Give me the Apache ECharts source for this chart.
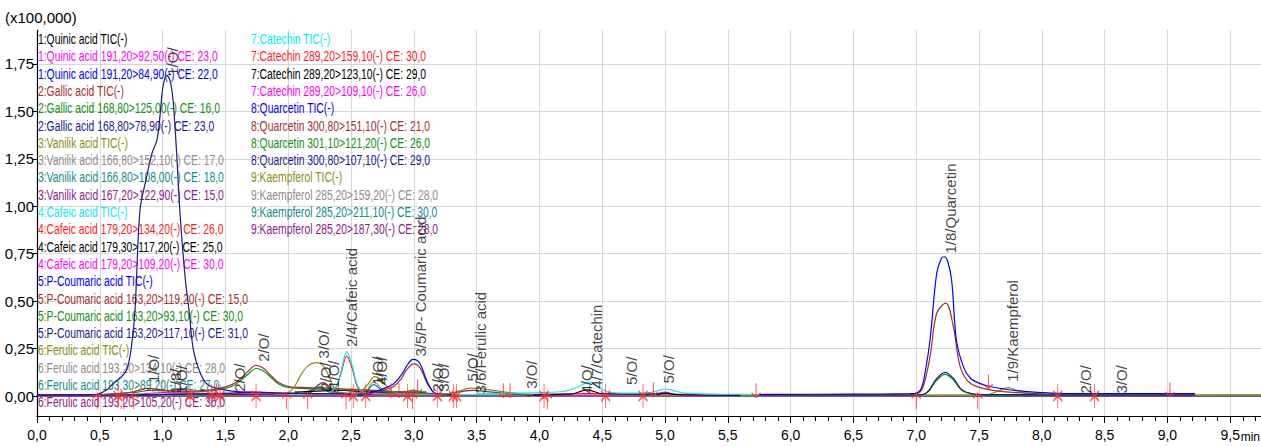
<!DOCTYPE html>
<html>
<head>
<meta charset="utf-8">
<title>Chromatogram</title>
<script src="https://cdn.jsdelivr.net/npm/echarts@6/dist/echarts.min.js"></script>
<style>
  * { margin: 0; padding: 0; }
  html, body, #chart { width: 1261px; height: 447px; overflow: hidden; background: #fff; }
</style>
</head>
<body>
<div id="chart"></div>
<script>
// colours used by the instrument software
var BLACK = '#000000', MAGENTA = '#ff00ff', BLUE = '#0000ff', MAROON = '#a03030',
    GREEN = '#109010', NAVY = '#1a1a8a', OLIVE = '#8c8c10', GRAY = '#8c8c8c',
    TEAL = '#108c8c', PURPLE = '#8c1a8c', CYAN = '#00f0f0', RED = '#ff1a1a';

// traces: [time (min), intensity (x100,000)]
var quinicTic = [[0, 0.006], [0.8, 0.006], [1.2, 0.01], [1.9, 0.008]];
var quinic92 = [[0, 0.002], [0.6, 0.003], [0.85, 0.012], [1.0, 0.018], [1.4, 0.014], [1.9, 0.01]];
var quinic84 = [[0, 0.004], [0.4, 0.005], [0.475, 0.008], [0.55, 0.03], [0.61, 0.067], [0.67, 0.1],
  [0.714, 0.137], [0.75, 0.25], [0.78, 0.45], [0.82, 0.98], [0.868, 1.14], [0.916, 1.28], [0.955, 1.35],
  [0.98, 1.48], [1.003, 1.63], [1.035, 1.69], [1.06, 1.66], [1.083, 1.56], [1.11, 1.3], [1.14, 0.95],
  [1.18, 0.62], [1.213, 0.436], [1.245, 0.243], [1.3, 0.12], [1.364, 0.058], [1.51, 0.03], [1.7, 0.02],
  [2.0, 0.015], [2.5, 0.01]];
var gallicTic = [[0.5, 0.008], [0.7, 0.015], [0.8, 0.028], [0.88, 0.04], [0.96, 0.036], [1.05, 0.028],
  [1.2, 0.026], [1.35, 0.03], [1.45, 0.04], [1.55, 0.06], [1.62, 0.09], [1.68, 0.13], [1.744, 0.162],
  [1.8, 0.148], [1.86, 0.11], [1.92, 0.072], [2.0, 0.05], [2.1, 0.045], [2.3, 0.042], [2.5, 0.036],
  [2.7, 0.03], [2.9, 0.02], [3.1, 0.01]];
var gallic125 = [[0.5, 0.006], [0.8, 0.02], [0.9, 0.03], [1.2, 0.022], [1.35, 0.025], [1.45, 0.033],
  [1.55, 0.05], [1.62, 0.08], [1.68, 0.115], [1.744, 0.145], [1.8, 0.133], [1.86, 0.1], [1.92, 0.065],
  [2.0, 0.045], [2.2, 0.038], [2.5, 0.032], [2.8, 0.025], [3.1, 0.01]];
var gallic78 = [[0.5, 0.004], [1.4, 0.012], [1.75, 0.02], [2.0, 0.014], [2.6, 0.012], [3.1, 0.008]];
var vanilikTic = [[1.9, 0.008], [2.0, 0.018], [2.05, 0.05], [2.1, 0.11], [2.16, 0.16], [2.227, 0.176],
  [2.27, 0.165], [2.32, 0.11], [2.36, 0.05], [2.4, 0.02], [2.45, 0.012], [2.55, 0.015], [2.62, 0.05],
  [2.69, 0.102], [2.74, 0.085], [2.8, 0.04], [2.86, 0.015], [2.95, 0.008], [3.1, 0.006]];
var vanilik152 = [[1.9, 0.004], [2.1, 0.01], [2.25, 0.05], [2.38, 0.015], [2.6, 0.015], [2.68, 0.075],
  [2.78, 0.02], [3.1, 0.006]];
var vanilik108 = [[1.9, 0.004], [2.15, 0.01], [2.25, 0.045], [2.35, 0.015], [2.6, 0.012], [2.68, 0.06],
  [2.78, 0.015], [3.1, 0.005]];
var vanilik122 = [[1.9, 0.003], [2.15, 0.015], [2.28, 0.07], [2.38, 0.02], [2.6, 0.01], [2.7, 0.03],
  [2.8, 0.01], [3.1, 0.004]];
var cafeicTic = [[2.0, 0.008], [2.3, 0.012], [2.38, 0.05], [2.42, 0.13], [2.466, 0.234], [2.51, 0.16],
  [2.55, 0.06], [2.6, 0.02], [2.7, 0.012], [3.0, 0.01], [3.35, 0.008]];
var cafeic134 = [[2.0, 0.006], [2.3, 0.01], [2.38, 0.045], [2.42, 0.12], [2.466, 0.21], [2.51, 0.145],
  [2.55, 0.05], [2.6, 0.018], [2.7, 0.01], [3.35, 0.006]];
var cafeic117 = [[2.05, 0.02], [2.45, 0.03], [2.6, 0.022], [3.1, 0.02]];
var cafeic109 = [[1.9, 0.004], [3.35, 0.004]];
var coumaricTic = [[2.6, 0.012], [2.7, 0.025], [2.78, 0.045], [2.84, 0.065], [2.9, 0.11], [2.94, 0.155],
  [2.98, 0.19], [3.0, 0.193], [3.05, 0.17], [3.1, 0.085], [3.155, 0.022], [3.2, 0.01], [3.3, 0.008]];
var coumaric119 = [[2.6, 0.01], [2.7, 0.02], [2.78, 0.035], [2.84, 0.05], [2.9, 0.09], [2.94, 0.135],
  [3.0, 0.169], [3.05, 0.148], [3.1, 0.075], [3.155, 0.02], [3.2, 0.01], [3.3, 0.006]];
var coumaric93 = [[2.55, 0.008], [2.9, 0.02], [3.0, 0.03], [3.1, 0.015], [3.35, 0.006]];
var coumaric117 = [[2.55, 0.005], [3.0, 0.012], [3.35, 0.005]];
var ferulicTic = [[3.2, 0.008], [3.3, 0.015], [3.38, 0.03], [3.45, 0.042], [3.55, 0.038], [3.65, 0.028],
  [3.8, 0.015], [3.95, 0.008]];
var ferulic133 = [[3.2, 0.005], [3.95, 0.005]];
var ferulic89 = [[3.2, 0.004], [3.95, 0.004]];
var ferulic105 = [[3.2, 0.006], [3.35, 0.02], [3.47, 0.03], [3.6, 0.022], [3.8, 0.01], [3.95, 0.005]];
var catechinTic = [[3.5, 0.012], [3.8, 0.015], [4.0, 0.018], [4.2, 0.025], [4.3, 0.045], [4.4, 0.073],
  [4.47, 0.05], [4.55, 0.02], [4.7, 0.015], [4.88, 0.018], [4.95, 0.03], [5.0, 0.037], [5.06, 0.03],
  [5.15, 0.015], [5.4, 0.01], [6.4, 0.006]];
var catechin159 = [[3.9, 0.005], [4.38, 0.012], [5.0, 0.01], [5.6, 0.004]];
var catechin123 = [[3.9, 0.006], [4.25, 0.01], [4.38, 0.032], [4.5, 0.012], [4.95, 0.01], [5.0, 0.015],
  [5.1, 0.008], [5.6, 0.005]];
var catechin109 = [[3.9, 0.003], [4.9, 0.008], [5.0, 0.02], [5.1, 0.006], [5.6, 0.003]];
var quarcetinTic = [[5.75, 0.008], [6.5, 0.01], [6.95, 0.012], [7.0, 0.015], [7.04, 0.04], [7.07, 0.12],
  [7.11, 0.295], [7.163, 0.647], [7.2, 0.725], [7.224, 0.734], [7.25, 0.71], [7.282, 0.61], [7.32, 0.295],
  [7.375, 0.155], [7.43, 0.095], [7.5, 0.068], [7.59, 0.05], [7.8, 0.028], [8.12, 0.014], [8.5, 0.012],
  [9.22, 0.012]];
var quarcetin151 = [[5.75, 0.005], [6.9, 0.006], [7.0, 0.01], [7.05, 0.04], [7.11, 0.207], [7.163, 0.436],
  [7.235, 0.49], [7.296, 0.365], [7.35, 0.155], [7.43, 0.067], [7.59, 0.032], [7.8, 0.018], [8.1, 0.01],
  [9.22, 0.008]];
var quarcetin121 = [[5.75, 0.003], [6.9, 0.003], [7.05, 0.006], [7.1, 0.025], [7.16, 0.08], [7.23, 0.114],
  [7.3, 0.082], [7.36, 0.032], [7.45, 0.01], [7.6, 0.004], [9.22, 0.003]];
var quarcetin107 = [[5.75, 0.006], [6.9, 0.006], [7.05, 0.008], [7.1, 0.03], [7.16, 0.09], [7.23, 0.125],
  [7.3, 0.09], [7.36, 0.035], [7.45, 0.012], [7.6, 0.007], [9.22, 0.006]];
var kaempferolTic = [[5.5, 0.003], [7.55, 0.005], [7.65, 0.025], [7.73, 0.044], [7.8, 0.03], [7.9, 0.01],
  [8.0, 0.004], [9.3, 0.005], [9.745, 0.008]];
var kaempferol159 = [[5.5, 0.002], [9.745, 0.005]];
var kaempferol211 = [[5.5, 0.003], [9.745, 0.003]];
var kaempferol187 = [[5.5, 0.002], [9.745, 0.002]];

// legend text of the two columns
var legendLeft = [
  ['1:Quinic acid TIC(-)', BLACK],
  ['1:Quinic acid 191,20>92,50(-) CE: 23,0', MAGENTA],
  ['1:Quinic acid 191,20>84,90(-) CE: 22,0', BLUE],
  ['2:Gallic acid TIC(-)', MAROON],
  ['2:Gallic acid 168,80>125,00(-) CE: 16,0', GREEN],
  ['2:Gallic acid 168,80>78,90(-) CE: 23,0', NAVY],
  ['3:Vanilik acid TIC(-)', OLIVE],
  ['3:Vanilik acid 166,80>152,10(-) CE: 17,0', GRAY],
  ['3:Vanilik acid 166,80>108,00(-) CE: 18,0', TEAL],
  ['3:Vanilik acid 167,20>122,90(-) CE: 15,0', PURPLE],
  ['4:Cafeic acid TIC(-)', CYAN],
  ['4:Cafeic acid 179,20>134,20(-) CE: 26,0', RED],
  ['4:Cafeic acid 179,30>117,20(-) CE: 25,0', BLACK],
  ['4:Cafeic acid 179,20>109,20(-) CE: 30,0', MAGENTA],
  ['5:P-Coumaric acid TIC(-)', BLUE],
  ['5:P-Coumaric acid 163,20>119,20(-) CE: 15,0', MAROON],
  ['5:P-Coumaric acid 163,20>93,10(-) CE: 30,0', GREEN],
  ['5:P-Coumaric acid 163,20>117,10(-) CE: 31,0', NAVY],
  ['6:Ferulic acid TIC(-)', OLIVE],
  ['6:Ferulic acid 193,20>134,10(-) CE: 28,0', GRAY],
  ['6:Ferulic acid 193,30>89,20(-) CE: 27,0', TEAL],
  ['6:Ferulic acid 193,20>105,20(-) CE: 36,0', PURPLE]
];
var legendRight = [
  ['7:Catechin TIC(-)', CYAN],
  ['7:Catechin 289,20>159,10(-) CE: 30,0', RED],
  ['7:Catechin 289,20>123,10(-) CE: 29,0', BLACK],
  ['7:Catechin 289,20>109,10(-) CE: 26,0', MAGENTA],
  ['8:Quarcetin TIC(-)', BLUE],
  ['8:Quarcetin 300,80>151,10(-) CE: 21,0', MAROON],
  ['8:Quarcetin 301,10>121,20(-) CE: 26,0', GREEN],
  ['8:Quarcetin 300,80>107,10(-) CE: 29,0', NAVY],
  ['9:Kaempferol TIC(-)', OLIVE],
  ['9:Kaempferol 285,20>159,20(-) CE: 28,0', GRAY],
  ['9:Kaempferol 285,20>211,10(-) CE: 30,0', TEAL],
  ['9:Kaempferol 285,20>187,30(-) CE: 28,0', PURPLE]
];

// peak annotations
var labelTexts = ['1/O/', '1/O/', '1/8/', '1/O/', '2/O/', '2/O/', '3/O/', '2/O/', '1/O/', '2/4/Cafeic acid',
  '1/O/', '4/O/', '3/5/P- Coumaric acid', '2/O/', '3/O/', '5/O/', '3/6/Ferulic acid', '3/O/', '4/O/',
  '4/7/Catechin', '5/O/', '5/O/', '1/8/Quarcetin', '1/9/Kaempferol', '2/O/', '3/O/'];
var labelTimes = [1.075, 0.93, 1.10, 1.15, 1.616, 1.80, 2.28, 2.30, 2.36, 2.505,
  2.71, 2.74, 3.05, 3.19, 3.24, 3.47, 3.53, 3.94, 4.376,
  4.456, 4.735, 5.026, 7.27, 7.77, 8.345, 8.636];
var labelLevels = [1.68, 0.06, 0.005, 0.005, 0.014, 0.172, 0.19, 0.02, 0.03, 0.25,
  0.05, 0.05, 0.2, 0.015, 0.015, 0.068, 0.005, 0.03, 0.005,
  0.03, 0.05, 0.058, 0.743, 0.067, 0.005, 0.005];

// integration markers
var upTimes = [0.483, 0.69, 0.77, 1.988, 2.155, 2.46, 2.99, 4.063, 7.0, 7.49];
var downTimes = [1.43, 2.818, 2.882, 3.03, 3.713, 3.766, 4.907, 5.725, 7.575, 9.02];
var downLevels = [0.03, 0.03, 0.03, 0.05, 0.03, 0.03, 0.035, 0.03, 0.076, 0.035];
var crossTimes = [0.645, 1.218, 1.39, 1.457, 1.744, 2.518, 2.617, 2.95, 3.187, 3.315, 3.34, 4.037,
  4.527, 4.825, 8.127, 8.42];

var yTicks = [0, 0.25, 0.5, 0.75, 1, 1.25, 1.5, 1.75];

function trace(name, color, data) {
  return {
    name: name, type: 'line', data: data, smooth: 0.35, symbol: 'none',
    lineStyle: { color: color, width: 1.2 }, itemStyle: { color: color },
    silent: true, animation: false, z: 3
  };
}

var series = [
  trace('kaempferol187', PURPLE, kaempferol187),
  trace('kaempferol211', TEAL, kaempferol211),
  trace('kaempferol159', GRAY, kaempferol159),
  trace('kaempferolTic', OLIVE, kaempferolTic),
  trace('quinicTic', BLACK, quinicTic),
  trace('quinic92', MAGENTA, quinic92),
  trace('gallic78', NAVY, gallic78),
  trace('vanilik152', GRAY, vanilik152),
  trace('vanilik108', TEAL, vanilik108),
  trace('vanilik122', PURPLE, vanilik122),
  trace('cafeic109', MAGENTA, cafeic109),
  trace('cafeic117', BLACK, cafeic117),
  trace('coumaric93', GREEN, coumaric93),
  trace('coumaric117', NAVY, coumaric117),
  trace('ferulic133', GRAY, ferulic133),
  trace('ferulic89', TEAL, ferulic89),
  trace('ferulic105', PURPLE, ferulic105),
  trace('catechin159', RED, catechin159),
  trace('catechin109', MAGENTA, catechin109),
  trace('catechin123', BLACK, catechin123),
  trace('gallic125', GREEN, gallic125),
  trace('gallicTic', MAROON, gallicTic),
  trace('vanilikTic', OLIVE, vanilikTic),
  trace('cafeic134', RED, cafeic134),
  trace('cafeicTic', CYAN, cafeicTic),
  trace('coumaric119', MAROON, coumaric119),
  trace('coumaricTic', BLUE, coumaricTic),
  trace('ferulicTic', OLIVE, ferulicTic),
  trace('catechinTic', CYAN, catechinTic),
  trace('quarcetin121', GREEN, quarcetin121),
  trace('quarcetin107', NAVY, quarcetin107),
  trace('quarcetin151', MAROON, quarcetin151),
  trace('quarcetinTic', BLUE, quarcetinTic),
  trace('quinic84', NAVY, quinic84)
];

var markerStyle = { color: 'transparent', borderColor: '#ff2a2a', borderWidth: 1.3 };
series.push({
  type: 'scatter', silent: true, animation: false, z: 4,
  symbol: 'path://M4,0L4,16M0,5L4,0L8,5', symbolSize: [9, 16],
  itemStyle: markerStyle,
  data: upTimes.map(function (t) { return [t, -0.028]; })
});
series.push({
  type: 'scatter', silent: true, animation: false, z: 4,
  symbol: 'path://M4,0L4,16M0,11L4,16L8,11', symbolSize: [9, 14],
  itemStyle: markerStyle,
  data: downTimes.map(function (t, i) { return [t, downLevels[i]]; })
});
series.push({
  type: 'scatter', silent: true, animation: false, z: 4,
  symbol: 'path://M4,0L4,24M0,7L4,12L8,7M0,17L4,12L8,17', symbolSize: [9, 24],
  itemStyle: markerStyle,
  data: crossTimes.map(function (t) { return [t, 0]; })
});
series.push({
  type: 'scatter', silent: true, animation: false, z: 5,
  symbolSize: 1, itemStyle: { color: 'transparent' },
  label: {
    show: true, position: 'top', distance: 1, rotate: 90, align: 'left', verticalAlign: 'middle',
    formatter: function (p) { return p.name; },
    color: '#111', fontSize: 15, fontFamily: 'Liberation Sans'
  },
  data: labelTexts.map(function (s, i) { return { name: s, value: [labelTimes[i], labelLevels[i]] }; })
});

var graphics = [{
  type: 'text', left: 5, top: 10, z: 1,
  style: { text: '(x100,000)', fill: '#000', fontSize: 15, fontFamily: 'Liberation Sans' }
}, {
  type: 'text', x: 1260, y: 437, z: 1,
  style: { text: 'min', fill: '#000', fontSize: 12, fontFamily: 'Liberation Sans',
           align: 'right', verticalAlign: 'middle' }
}];
function addLegend(list, x0) {
  list.forEach(function (item, i) {
    graphics.push({
      type: 'text', x: x0, y: 38.8 + i * 17.3, scaleX: 0.69, z: 1, silent: true,
      style: { text: item[0], fill: item[1], fontSize: 15, fontFamily: 'Liberation Sans',
               align: 'left', verticalAlign: 'middle' }
    });
  });
}
addLegend(legendLeft, 38);
addLegend(legendRight, 251);

var chart = echarts.init(document.getElementById('chart'), null, { renderer: 'svg' });
chart.setOption({
  animation: false,
  grid: { left: 37, right: 0, top: 30, bottom: 31 },
  xAxis: [{
    type: 'value', min: 0, max: 9.745, interval: 0.5,
    axisLine: { onZero: false, lineStyle: { color: '#000', width: 1.2 } },
    axisTick: { length: 7, lineStyle: { color: '#000' } },
    minorTick: { show: true, splitNumber: 5, length: 5, lineStyle: { color: '#000' } },
    axisLabel: {
      showMaxLabel: false, margin: 12, color: '#000', fontSize: 14,
      fontFamily: 'Liberation Sans',
      formatter: function (v) { return v.toFixed(1).replace('.', ','); }
    },
    splitLine: { show: true, lineStyle: { color: '#d6d6d6' } }
  }, {
    type: 'value', position: 'top', min: 0, max: 9.745,
    axisLine: { show: true, lineStyle: { color: '#444', width: 1.5 } },
    axisTick: { show: false }, axisLabel: { show: false }, splitLine: { show: false }
  }],
  yAxis: {
    type: 'value', min: -0.1054, max: 1.929,
    axisLine: { show: true, onZero: false, lineStyle: { color: '#000', width: 1.2 } },
    axisTick: { show: true, customValues: yTicks, length: 5, lineStyle: { color: '#000' } },
    axisLabel: {
      customValues: yTicks, margin: 3, color: '#000', fontSize: 15,
      fontFamily: 'Liberation Sans',
      formatter: function (v) { return v.toFixed(2).replace('.', ','); }
    },
    splitLine: { show: true, lineStyle: { color: '#d6d6d6' } }
  },
  graphic: graphics,
  series: series
});
</script>
</body>
</html>
